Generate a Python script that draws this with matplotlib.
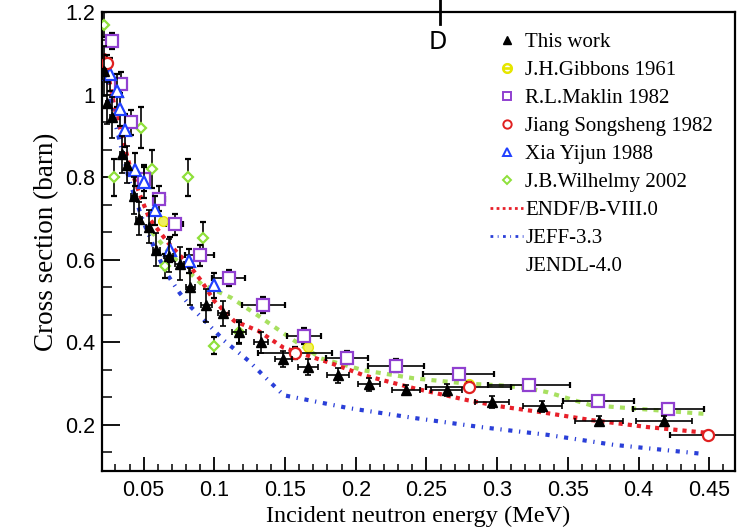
import matplotlib
matplotlib.use("Agg")
import matplotlib.pyplot as plt
from matplotlib.lines import Line2D
from matplotlib.ticker import MultipleLocator, AutoMinorLocator, FuncFormatter

# this work
tw_x = [0.022, 0.024, 0.0274, 0.0345, 0.038, 0.043, 0.0465, 0.0535, 0.059, 0.0676, 0.0754,
        0.0831, 0.0944, 0.1064, 0.1177, 0.1332, 0.1487, 0.1664, 0.1875, 0.2094, 0.2355,
        0.2644, 0.2961, 0.332, 0.3723, 0.4181]
tw_y = [1.058, 0.98, 0.945, 0.856, 0.83, 0.755, 0.70, 0.68, 0.625, 0.61, 0.59,
        0.535, 0.49, 0.47, 0.425, 0.40, 0.36, 0.34, 0.32, 0.298, 0.285,
        0.285, 0.255, 0.245, 0.21, 0.21]
tw_ey = [0.06, 0.05, 0.05, 0.045, 0.045, 0.045, 0.04, 0.04, 0.04, 0.04, 0.04,
         0.045, 0.04, 0.03, 0.03, 0.025, 0.02, 0.02, 0.018, 0.015, 0.012,
         0.015, 0.014, 0.014, 0.012, 0.012]
tw_ex = [0.001, 0.001, 0.001, 0.0015, 0.0015, 0.002, 0.002, 0.002, 0.0025, 0.003, 0.003,
         0.003, 0.004, 0.004, 0.005, 0.005, 0.006, 0.007, 0.008, 0.008, 0.01,
         0.011, 0.012, 0.014, 0.017, 0.02]

# J.H.Gibbons 1961
gb_x = [0.064, 0.166, 0.28]
gb_y = [0.695, 0.39, 0.30]

# R.L.Maklin 1982
mk_x = [0.0274, 0.0338, 0.0408, 0.05, 0.061, 0.0719, 0.0895, 0.11, 0.1346, 0.1635,
        0.194, 0.2284, 0.2728, 0.3222, 0.3716, 0.421]
mk_y = [1.13, 1.025, 0.933, 0.796, 0.748, 0.686, 0.611, 0.556, 0.491, 0.416,
        0.363, 0.344, 0.323, 0.296, 0.258, 0.238]
mk_ex = [0.002, 0.002, 0.003, 0.003, 0.004, 0.006, 0.01, 0.012, 0.015, 0.012,
         0.015, 0.02, 0.025, 0.029, 0.025, 0.025]
mk_ey = [0.02, 0.03, 0.03, 0.03, 0.03, 0.025, 0.025, 0.02, 0.02, 0.02,
         0.015, 0.015, 0.012, 0.012, 0.01, 0.01]

# Jiang Songsheng 1982
js_x = [0.024, 0.157, 0.28, 0.449]
js_y = [1.077, 0.375, 0.291, 0.175]
js_ex = [0.001, 0.026, 0.03, 0.027]
js_ey = [0.02, 0.015, 0.012, 0.008]

# Xia Yijun 1988
xy_x = [0.026, 0.031, 0.033, 0.0366, 0.0437, 0.05, 0.058, 0.0683, 0.0817, 0.1]
xy_y = [1.05, 1.01, 0.965, 0.914, 0.818, 0.789, 0.72, 0.625, 0.597, 0.538]
xy_ey = [0.04, 0.04, 0.04, 0.04, 0.04, 0.04, 0.035, 0.03, 0.03, 0.03]

# J.B.Wilhelmy 2002
wh_x = [0.022, 0.0288, 0.048, 0.0556, 0.065, 0.081, 0.092, 0.1, 0.1177]
wh_y = [1.17, 0.80, 0.92, 0.82, 0.585, 0.80, 0.652, 0.392, 0.424]
wh_ey = [0.03, 0.045, 0.05, 0.045, 0.03, 0.045, 0.04, 0.02, 0.025]

# evaluations
endf_x = [0.022, 0.03, 0.04, 0.0465, 0.054, 0.0676, 0.0817, 0.091, 0.1, 0.114, 0.131,
          0.149, 0.183, 0.206, 0.241, 0.279, 0.302, 0.331, 0.366, 0.406, 0.448]
endf_y = [1.10, 0.96, 0.83, 0.765, 0.70, 0.64, 0.589, 0.548, 0.50, 0.452, 0.428,
          0.387, 0.349, 0.32, 0.289, 0.26, 0.245, 0.231, 0.212, 0.195, 0.181]
jeff_x = [0.022, 0.03, 0.04, 0.05, 0.058, 0.066, 0.0754, 0.0839, 0.091, 0.107, 0.124,
          0.1346, 0.149, 0.1946, 0.241, 0.288, 0.3356, 0.382, 0.445]
jeff_y = [1.08, 0.93, 0.79, 0.69, 0.625, 0.568, 0.52, 0.484, 0.46, 0.404, 0.356,
          0.32, 0.272, 0.241, 0.217, 0.195, 0.176, 0.152, 0.13]
jendl_x = [0.0556, 0.07, 0.091, 0.112, 0.133, 0.154, 0.1755, 0.206, 0.241, 0.279, 0.302,
           0.3215, 0.336, 0.366, 0.392, 0.45]
jendl_y = [0.668, 0.61, 0.541, 0.508, 0.46, 0.41, 0.361, 0.332, 0.313, 0.30, 0.296,
           0.289, 0.279, 0.248, 0.241, 0.226]

SERIF = "Liberation Serif"
SANS = "Liberation Sans"

fig = plt.figure(figsize=(7.52, 5.30), dpi=100)
ax = fig.add_axes([0.1356, 0.111, 0.8414, 0.866])

c_endf = "#e8202a"
c_jeff = "#2a3fd8"
c_jendl = "#a8e060"
c_purple = "#9040d0"
c_green = "#8ee03a"

ax.plot(jendl_x, jendl_y, color=c_jendl, lw=3, ls=(0, (1.2, 1.5)), zorder=1)
ax.plot(endf_x, endf_y, color=c_endf, lw=3, ls=(0, (1.0, 1.2)), zorder=2)
ax.plot(jeff_x, jeff_y, color=c_jeff, lw=3, ls=(0, (1.0, 1.6, 0.3, 1.6)), zorder=2)

ebkw = dict(ecolor="black", elinewidth=1.2, capsize=2, capthick=1.2, ls="none")
ax.errorbar(wh_x, wh_y, yerr=wh_ey, marker="D", ms=5, mfc="white", mec=c_green, mew=1.6,
            zorder=3, **ebkw)
ax.errorbar(mk_x, mk_y, xerr=mk_ex, yerr=mk_ey, marker="s", ms=8, mfc="white", mec=c_purple,
            mew=1.6, zorder=4, **ebkw)
ax.errorbar(xy_x, xy_y, yerr=xy_ey, marker="^", ms=8, mfc="white", mec="#2040ff", mew=1.6,
            zorder=5, **ebkw)
ax.errorbar(js_x, js_y, xerr=js_ex, yerr=js_ey, marker="o", ms=8, mfc="white", mec="#e02020",
            mew=1.6, zorder=5, **ebkw)
ax.plot(gb_x, gb_y, ls="none", marker="o", ms=7, mfc="#f0f060", mec="#e6e600", zorder=4)
ax.errorbar(tw_x, tw_y, xerr=tw_ex, yerr=tw_ey, marker="^", ms=7.5, color="black", zorder=6,
            **ebkw)

ax.set_xlim(0.0205, 0.468)
ax.set_ylim(0.088, 1.2)
ax.xaxis.set_major_locator(MultipleLocator(0.05))
ax.xaxis.set_minor_locator(AutoMinorLocator(5))
ax.yaxis.set_major_locator(MultipleLocator(0.2))
ax.yaxis.set_minor_locator(AutoMinorLocator(3))
fmt = FuncFormatter(lambda v, p: "%g" % round(v, 3))
ax.xaxis.set_major_formatter(fmt)
ax.yaxis.set_major_formatter(fmt)
ax.tick_params(axis="x", which="major", direction="in", length=10, width=1.3, labelsize=15.5, pad=6)
ax.tick_params(axis="x", which="minor", direction="in", length=5, width=1.1)
ax.tick_params(axis="y", which="major", direction="in", length=13, width=1.3, labelsize=15.5, pad=5)
ax.tick_params(axis="y", which="minor", direction="in", length=7, width=1.1)
for lab in ax.get_xticklabels() + ax.get_yticklabels():
    lab.set_fontfamily(SANS)
for s in ax.spines.values():
    s.set_linewidth(1.6)

ax.set_xlabel("Incident neutron energy (MeV)", fontfamily=SERIF, fontsize=17.5, labelpad=4)
ax.set_ylabel("Cross section (barn)", fontfamily=SERIF, fontsize=19.5, labelpad=4)

handles = [
    Line2D([], [], ls="none", marker="^", ms=6, color="black"),
    Line2D([], [], ls="none", marker="$\\ominus$", ms=7, color="#e6e600"),
    Line2D([], [], ls="none", marker="s", ms=6, mfc="white", mec=c_purple, mew=1.4),
    Line2D([], [], ls="none", marker="o", ms=6, mfc="white", mec="#e02020", mew=1.4),
    Line2D([], [], ls="none", marker="^", ms=6, mfc="white", mec="#2040ff", mew=1.4),
    Line2D([], [], ls="none", marker="D", ms=4, mfc="white", mec=c_green, mew=1.4),
    Line2D([], [], color=c_endf, lw=2, ls=(0, (1.0, 1.2))),
    Line2D([], [], color=c_jeff, lw=2, ls=(0, (1.0, 1.6, 0.3, 1.6))),
    Line2D([], [], color="white", lw=2),
]
labels = ["This work", "J.H.Gibbons 1961", "R.L.Maklin 1982", "Jiang Songsheng 1982",
          "Xia Yijun 1988", "J.B.Wilhelmy 2002", "ENDF/B-VIII.0", "JEFF-3.3", "JENDL-4.0"]
ax.legend(handles, labels, loc="upper left", bbox_to_anchor=(0.60, 0.974), frameon=False,
          prop={"family": SERIF, "size": 15}, handlelength=1.6, handletextpad=0.1,
          labelspacing=0.405, borderaxespad=0)

# panel mark at the top
fig.text(0.582, 0.92, "D", fontfamily="DejaVu Sans", fontsize=17, ha="center", va="center")
fig.add_artist(Line2D([0.5855, 0.5855], [0.955, 1.0], color="black", lw=2))

fig.savefig("out.png", dpi=100)
